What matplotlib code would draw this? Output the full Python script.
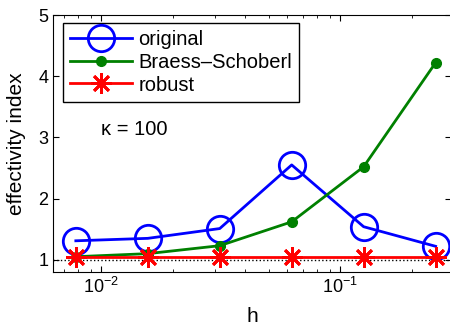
import numpy as np
import matplotlib.pyplot as plt

plt.rcParams['font.family'] = ['Liberation Sans', 'DejaVu Sans']
plt.rcParams['mathtext.fontset'] = 'custom'
plt.rcParams['mathtext.rm'] = 'Liberation Sans'
plt.rcParams['mathtext.it'] = 'Liberation Sans:italic'

h = [1/128, 1/64, 1/32, 1/16, 1/8, 1/4]
original = [1.31, 1.35, 1.51, 2.55, 1.54, 1.22]
braess = [1.05, 1.10, 1.23, 1.62, 2.52, 4.22]
robust = [1.05, 1.05, 1.05, 1.05, 1.05, 1.05]

fig = plt.figure(figsize=(4.5, 3.27), dpi=100)
ax = fig.add_axes([53/450, 1 - 272/327, 398/450, 257/327])

ax.axhline(1.0, color='k', ls=':', lw=1)
ax.plot(h, original, '-o', color='blue', lw=2, ms=19, mfc='none', mew=2, label='original')
ax.plot(h, braess, '-o', color='green', lw=2, ms=7, label='Braess\u2013Schoberl')
ax.plot(h, robust, '-', marker=(8, 2, 0), color='red', lw=2, ms=15, mew=2, label='robust')

ax.set_xscale('log')
ax.set_xlim(0.00627, 0.29)
ax.set_ylim(0.8, 5)
ax.set_yticks([1, 2, 3, 4, 5])
ax.tick_params(which='both', direction='in', top=True, right=True, labelsize=13)
ax.tick_params(which='major', length=4)
ax.tick_params(which='minor', length=2)
ax.set_xlabel('h', fontsize=15, labelpad=7)
ax.set_ylabel('effectivity index', fontsize=15, labelpad=9)
ax.text(0.0100, 3.04, '\u03ba = 100', fontsize=14.5)

leg = ax.legend(loc='upper left', bbox_to_anchor=(0.025, 0.968), fontsize=14.5,
                fancybox=False, framealpha=1, edgecolor='k', handlelength=3.1,
                borderpad=0.35, labelspacing=0.18, handletextpad=0.3,
                borderaxespad=0)
leg.get_frame().set_linewidth(1)

fig.savefig('out.png', dpi=100)
